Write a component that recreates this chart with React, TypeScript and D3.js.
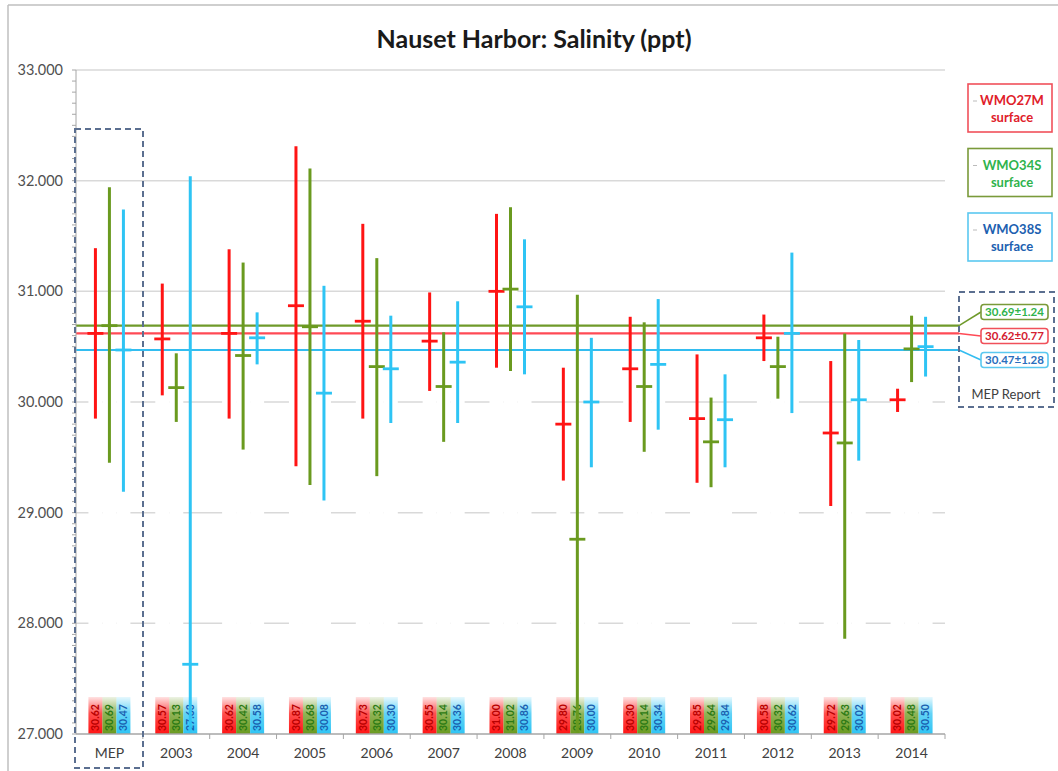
import React from 'react';
import * as d3 from 'd3';

const categories = ['MEP', '2003', '2004', '2005', '2006', '2007', '2008', '2009', '2010', '2011', '2012', '2013', '2014'];

const redMean = [30.62, 30.57, 30.62, 30.87, 30.73, 30.55, 31.0, 29.8, 30.3, 29.85, 30.58, 29.72, 30.02];
const redLow = [29.85, 30.06, 29.85, 29.42, 29.85, 30.1, 30.31, 29.29, 29.82, 29.27, 30.37, 29.06, 29.91];
const redHigh = [31.39, 31.07, 31.38, 32.31, 31.61, 30.99, 31.7, 30.31, 30.77, 30.43, 30.79, 30.37, 30.12];

const greenMean = [30.69, 30.13, 30.42, 30.68, 30.32, 30.14, 31.02, 28.76, 30.14, 29.64, 30.32, 29.63, 30.48];
const greenLow = [29.45, 29.82, 29.57, 29.25, 29.33, 29.64, 30.28, 26.5, 29.55, 29.23, 30.03, 27.86, 30.18];
const greenHigh = [31.94, 30.44, 31.26, 32.11, 31.3, 30.63, 31.76, 30.97, 30.72, 30.04, 30.59, 30.62, 30.78];

const blueMean = [30.47, 27.63, 30.58, 30.08, 30.3, 30.36, 30.86, 30.0, 30.34, 29.84, 30.62, 30.02, 30.5];
const blueLow = [29.19, 26.5, 30.34, 29.11, 29.81, 29.81, 30.25, 29.41, 29.75, 29.41, 29.9, 29.47, 30.23];
const blueHigh = [31.74, 32.04, 30.81, 31.05, 30.78, 30.91, 31.47, 30.58, 30.93, 30.25, 31.35, 30.56, 30.77];

const seriesNames = ['WMO27M', 'WMO34S', 'WMO38S'];
const mepSD = [0.77, 1.24, 1.28];
const yTicks = [27, 28, 29, 30, 31, 32, 33];

const FONT = "Lato, 'Open Sans', 'Liberation Sans', sans-serif";

export default function App() {
  const W = 1058;
  const H = 771;
  const left = 76, right = 945, top = 70, bottom = 734;
  const x = d3.scaleBand<string>().domain(categories).range([left, right]).padding(0);
  const y = d3.scaleLinear().domain([27, 33]).range([bottom, top]);
  const bw = 14;

  const series = [
    { name: seriesNames[0], mean: redMean, low: redLow, high: redHigh, color: '#ff1414', ref: '#ff4a55', text: '#b80000', legText: '#e0202a', border: '#f0505a', callText: '#d42030', callY: 336 },
    { name: seriesNames[1], mean: greenMean, low: greenLow, high: greenHigh, color: '#6a9a1f', ref: '#6f9a2a', text: '#2c7a14', legText: '#2fb34c', border: '#7a9a3a', callText: '#2fb34c', callY: 312 },
    { name: seriesNames[2], mean: blueMean, low: blueLow, high: blueHigh, color: '#2ec4f4', ref: '#33bdf0', text: '#1a5fb0', legText: '#2060b0', border: '#5bc8f0', callText: '#2a6ebd', callY: 360 },
  ];

  const cx = (cat: string, si: number) => (x(cat) as number) + x.bandwidth() / 2 + (si - 1) * bw;
  const minor = d3.range(0, 61).map((i) => 27 + i * 0.1);
  const labelTop = 697;

  return (
    <svg width={W} height={H} style={{ position: 'absolute', left: 0, top: 0, background: '#fff' }} fontFamily={FONT}>
      <defs>
        {series.map((s, si) => (
          <linearGradient key={si} id={`g${si}`} x1="0" y1="0" x2="0" y2="1">
            <stop offset="0%" stopColor={s.color} stopOpacity={0.12} />
            <stop offset="45%" stopColor={s.color} stopOpacity={0.75} />
            <stop offset="100%" stopColor={s.color} stopOpacity={1} />
          </linearGradient>
        ))}
        <clipPath id="plotClip">
          <rect x={left} y={top - 2} width={right - left} height={bottom - top + 2} />
        </clipPath>
      </defs>
      <rect x={0} y={0} width={W} height={H} fill="#fff" />
      {/* outer border */}
      <line x1={8} y1={5} x2={W} y2={5} stroke="#bfbfbf" strokeWidth={1.5} />
      <line x1={8} y1={5} x2={8} y2={H} stroke="#bfbfbf" strokeWidth={1.5} />

      {/* title */}
      <text x={534} y={48} textAnchor="middle" fontSize={25} fontWeight="bold" fill="#1a1a1a">
        Nauset Harbor: Salinity (ppt)
      </text>

      {/* gridlines */}
      {yTicks.filter((t) => t > 27).map((t) => (
        <line key={t} x1={left} x2={right} y1={y(t)} y2={y(t)} stroke="#d9d9d9" strokeWidth={1.5} />
      ))}

      {/* label columns (white bodies covering gridlines) */}
      {series.map((s, si) =>
        categories.map((c, ci) => (
          <rect key={`w${si}-${ci}`} x={cx(c, si) - bw / 2} y={y(s.mean[ci])} width={bw} height={bottom - y(s.mean[ci])} fill="#fff" />
        ))
      )}
      {series.map((s, si) =>
        categories.map((c, ci) => (
          <rect key={`l${si}-${ci}`} x={cx(c, si) - bw / 2} y={labelTop} width={bw} height={bottom - labelTop} fill={`url(#g${si})`} />
        ))
      )}
      {series.map((s, si) =>
        categories.map((c, ci) => {
          const tx = cx(c, si) + 3.8;
          const ty = bottom - 3;
          return (
            <text key={`t${si}-${ci}`} x={tx} y={ty} transform={`rotate(-90 ${tx} ${ty})`} fontSize={10.5} fontWeight="bold" fill={s.text}>
              {s.mean[ci].toFixed(2)}
            </text>
          );
        })
      )}

      {/* MEP reference lines + connectors */}
      {series.map((s, si) => {
        const yy = y(s.mean[0]);
        return (
          <g key={`ref${si}`}>
            <line x1={left} x2={959} y1={yy} y2={yy} stroke={s.ref} strokeWidth={2.2} />
            <line x1={959} x2={981} y1={yy} y2={s.callY} stroke={s.ref} strokeWidth={1.5} />
          </g>
        );
      })}

      {/* error bars */}
      <g clipPath="url(#plotClip)">
        {series.map((s, si) =>
          categories.map((c, ci) => {
            const px = cx(c, si);
            return (
              <g key={`e${si}-${ci}`}>
                <line x1={px} x2={px} y1={y(s.low[ci])} y2={y(s.high[ci])} stroke={s.color} strokeWidth={3} />
                <line x1={px - 8} x2={px + 8} y1={y(s.mean[ci])} y2={y(s.mean[ci])} stroke={s.color} strokeWidth={2.8} />
              </g>
            );
          })
        )}
      </g>

      {/* y axis */}
      <line x1={left} x2={left} y1={top} y2={bottom} stroke="#a6a6a6" strokeWidth={1} />
      {minor.map((m, i) => (
        <line key={`m${i}`} x1={left - 4} x2={left} y1={y(m)} y2={y(m)} stroke="#a6a6a6" strokeWidth={1} />
      ))}
      {yTicks.map((t) => (
        <text key={`yl${t}`} x={63} y={y(t) + 5} textAnchor="end" fontSize={14.5} fill="#505050">
          {d3.format('.3f')(t)}
        </text>
      ))}

      {/* x axis */}
      <line x1={left} x2={right} y1={bottom} y2={bottom} stroke="#a6a6a6" strokeWidth={1.5} />
      {categories.map((c, ci) => (
        <line key={`xt${ci}`} x1={(x(c) as number) + x.bandwidth()} x2={(x(c) as number) + x.bandwidth()} y1={bottom} y2={bottom + 5} stroke="#a6a6a6" strokeWidth={1} />
      ))}
      {categories.map((c) => (
        <text key={`xl${c}`} x={(x(c) as number) + x.bandwidth() / 2} y={758} textAnchor="middle" fontSize={14} fill="#404040">
          {c}
        </text>
      ))}

      {/* dashed boxes */}
      <rect x={75} y={129} width={68} height={639} fill="none" stroke="#5b6f90" strokeWidth={2} strokeDasharray="6 4" />
      <rect x={959} y={292} width={95} height={115} fill="none" stroke="#5b6f90" strokeWidth={2} strokeDasharray="6 4" />
      <text x={1006} y={399} textAnchor="middle" fontSize={13} fill="#404040">MEP Report</text>

      {/* callouts */}
      {series.map((s, si) => (
        <g key={`c${si}`}>
          <rect x={981} y={s.callY - 7.5} width={67} height={15} rx={3} fill="#fff" stroke={s.border} strokeWidth={1.6} />
          <text x={1014.5} y={s.callY + 4} textAnchor="middle" fontSize={11.5} fontWeight="bold" fill={s.callText}>
            {`${s.mean[0].toFixed(2)}±${mepSD[si].toFixed(2)}`}
          </text>
        </g>
      ))}

      {/* legend */}
      {series.map((s, si) => {
        const ly = 84 + si * 64.5;
        return (
          <g key={`lg${si}`}>
            <rect x={968} y={ly} width={84} height={48} fill="#fff" stroke={s.border} strokeWidth={1.6} />
            <line x1={973} x2={977} y1={ly + 17} y2={ly + 17} stroke="#bbb" strokeWidth={1} />
            <text x={1012} y={ly + 21} textAnchor="middle" fontSize={13} fontWeight="bold" fill={s.legText}>{s.name}</text>
            <text x={1012} y={ly + 38} textAnchor="middle" fontSize={13} fontWeight="bold" fill={s.legText}>surface</text>
          </g>
        );
      })}
    </svg>
  );
}
